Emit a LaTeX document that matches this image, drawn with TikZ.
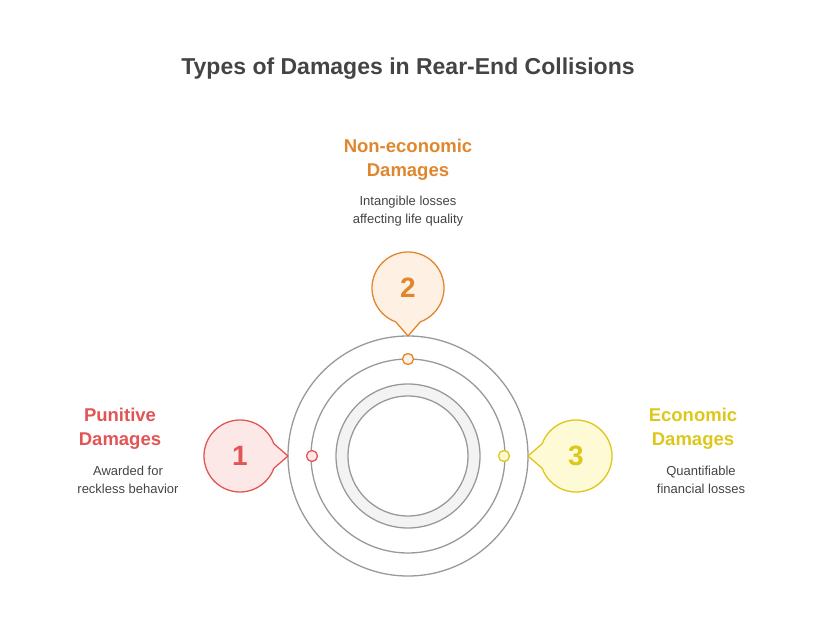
\documentclass[tikz,border=0pt]{standalone}
\usepackage{fontspec}
\setmainfont{Liberation Sans}
\usetikzlibrary{positioning, calc}
\definecolor{redc}{HTML}{E25555}
\definecolor{redf}{HTML}{FDE8E8}
\definecolor{orac}{HTML}{E0872E}
\definecolor{oraf}{HTML}{FEF0E2}
\definecolor{yelc}{HTML}{DCC71A}
\definecolor{yelf}{HTML}{FEFAD6}
\definecolor{ringc}{HTML}{999999}
\definecolor{txtc}{HTML}{444444}
\tikzset{
  ring/.style={draw=ringc, line width=1.3pt},
  head/.style={font=\bfseries\fontsize{18.5}{24}\selectfont, align=center},
  desc/.style={font=\fontsize{13}{18}\selectfont, align=center, text=txtc},
  num/.style={font=\bfseries\fontsize{28}{30}\selectfont},
}
% callout badge: center, angle of tip, colour, fill, name, number
\newcommand{\badge}[6]{%
  \draw[#3, fill=#4, line width=1.3pt] ($(#1)+(#2+20:36)$) -- ($(#1)+(#2:48)$)
    -- ($(#1)+(#2-20:36)$) arc (#2-20:#2-340:36) -- cycle;
  \node[num, text=#3] (#5) at (#1) {#6};
}
\begin{document}
\begin{tikzpicture}[x=1pt, y=1pt, line cap=round, line join=round]
        \useasboundingbox (0,0) rectangle (816,-636);

        % Title
        \node[font=\bfseries\fontsize{23}{26}\selectfont, text=txtc] (title) at (408,-69) {Types of Damages in Rear-End Collisions};

        % Rings
        \coordinate (ctr) at (408,-456);
        \draw[ring] (ctr) circle (120);
        \draw[ring] (ctr) circle (97);
        \draw[ring, fill=ringc!12, even odd rule] (ctr) circle (72) (ctr) circle (60);

        % Markers
        \draw[redc, fill=redf, line width=1.3pt] (312,-456) circle (5.5);
        \draw[orac, fill=oraf, line width=1.3pt] (408,-359) circle (5.5);
        \draw[yelc, fill=yelf, line width=1.3pt] (504,-456) circle (5.5);

        % Badges
        \coordinate (c1) at (240,-456);
        \coordinate (c2) at (408,-288);
        \coordinate (c3) at (576,-456);
        \badge{c1}{0}{redc}{redf}{one}{1}
        \badge{c2}{-90}{orac}{oraf}{two}{2}
        \badge{c3}{180}{yelc}{yelf}{three}{3}

        % Labels
        \node[head, text=redc] (punitive) at (120,-429) {Punitive\\Damages};
        \node[desc] (punitivedesc) at (128,-480) {Awarded for\\reckless behavior};
        \node[head, text=orac] (noneco) at (408,-160) {Non-economic\\Damages};
        \node[desc] (nonecodesc) at (408,-211) {Intangible losses\\affecting life quality};
        \node[head, text=yelc] (eco) at (693,-429) {Economic\\Damages};
        \node[desc] (ecodesc) at (701,-480) {Quantifiable\\financial losses};
    \end{tikzpicture}
\end{document}
